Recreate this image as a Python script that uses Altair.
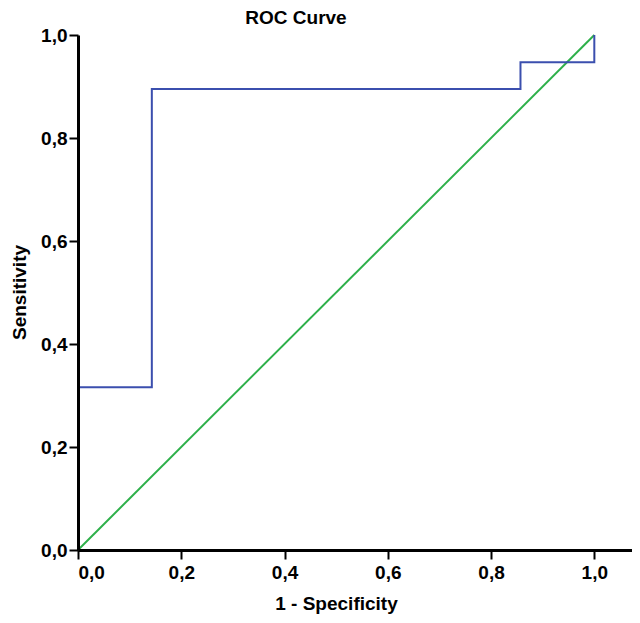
import altair as alt
import pandas as pd

# ROC curve points (1 - specificity, sensitivity)
fpr = [0.0, 0.0, 0.143, 0.143, 0.857, 0.857, 1.0, 1.0]
tpr = [0.0, 0.316, 0.316, 0.895, 0.895, 0.947, 0.947, 1.0]
ref_x = [0.0, 1.0]
ref_y = [0.0, 1.0]
ticks = [0.0, 0.2, 0.4, 0.6, 0.8, 1.0]

roc = pd.DataFrame({"x": fpr, "y": tpr, "order": list(range(len(fpr)))})
diag = pd.DataFrame({"x": ref_x, "y": ref_y, "order": [0, 1]})

FONT = "Liberation Sans"
label_expr = "replace(format(datum.value, '.1f'), '.', ',')"

xscale = alt.Scale(domain=[0, 1.073], nice=False, zero=False)
yscale = alt.Scale(domain=[0, 1.0], nice=False, zero=False)

xaxis = alt.Axis(values=ticks, labelExpr=label_expr, grid=False, title="1 - Specificity",
                 titleX=258, titleY=44, titleAlign="center", zindex=1)
yaxis = alt.Axis(values=ticks, labelExpr=label_expr, grid=False, title="Sensitivity", zindex=1,
                 titleX=-49, titleY=257, titleAlign="center")

line_roc = alt.Chart(roc).mark_line(color="#3b4fae", strokeWidth=2, interpolate="linear").encode(
    x=alt.X("x:Q", scale=xscale, axis=xaxis),
    y=alt.Y("y:Q", scale=yscale, axis=yaxis),
    order="order:Q",
)
line_diag = alt.Chart(diag).mark_line(color="#2eb04a", strokeWidth=2).encode(
    x=alt.X("x:Q", scale=xscale),
    y=alt.Y("y:Q", scale=yscale),
    order="order:Q",
)

chart = alt.layer(line_diag, line_roc).properties(
    width=554,
    height=515,
    title=alt.TitleParams("ROC Curve", anchor="middle", dx=-59, offset=-2,
                          font=FONT, fontSize=19, fontWeight="bold", color="black"),
    autosize=alt.AutoSizeParams(type="none"),
    padding={"left": 70, "top": 27, "right": 0, "bottom": 65},
).configure_view(stroke=None).configure_axis(
    domainColor="black", domainWidth=3, tickColor="black", tickWidth=2, tickSize=9,
    labelFont=FONT, labelFontSize=19, labelFontWeight="bold", labelColor="black", labelPadding=2,
    titleFont=FONT, titleFontSize=19, titleFontWeight="bold", titleColor="black",
).configure_axisX(labelPadding=4)

chart.save("out.html", embed_options={"renderer": "svg", "actions": False})
